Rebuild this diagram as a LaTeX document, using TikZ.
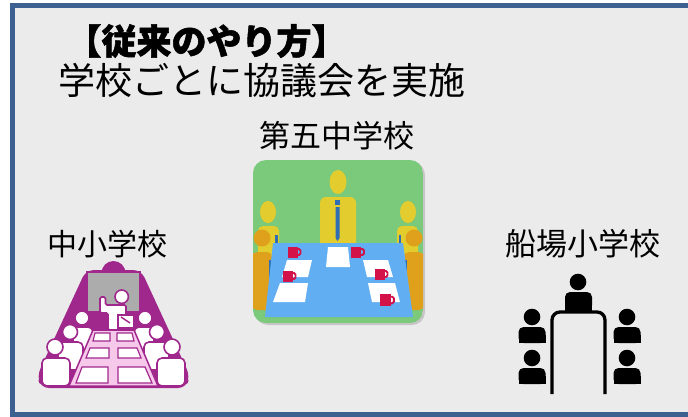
\documentclass[tikz,border=0pt]{standalone}
\usepackage{fontspec}
\newfontfamily\jp{Noto Sans CJK JP}
\newfontfamily\jptitle{Noto Sans CJK JP}[BoldFeatures={FakeBold=1.6}]
\definecolor{frameblue}{HTML}{3C6190}
\definecolor{bggray}{HTML}{EBEBEB}
\definecolor{tgreen}{HTML}{7BC97A}
\definecolor{tblue}{HTML}{62AEF3}
\definecolor{pyellow}{HTML}{E2CC2E}
\definecolor{porange}{HTML}{DFA01C}
\definecolor{tieblue}{HTML}{2F6EB5}
\definecolor{mugred}{HTML}{D3124A}
\definecolor{schpurple}{HTML}{A0288D}
\definecolor{deskpink}{HTML}{F6C8EA}
\definecolor{boardgray}{HTML}{ACACAC}
\tikzset{
  jptext/.style={inner sep=0pt, font=\jp\fontsize{#1}{#1}\selectfont},
  titletext/.style={inner sep=0pt, font=\jptitle\bfseries\fontsize{35}{35}\selectfont},
  paper/.style={fill=white},
  stu/.style={fill=white, draw=schpurple, line width=1.6pt},
  cell/.style={fill=white, draw=schpurple, line width=1.2pt},
  mug/.pic={
    \fill[mugred] (-5,-5.5) rectangle (5,5.5);
    \draw[mugred, line width=1.9pt, rounded corners=1.5pt] (4,-3) -- (8,-3) -- (8,3) -- (4,3);
  },
}
\begin{document}
\begin{tikzpicture}[x=1pt,y=-1pt]
\useasboundingbox (0,0) rectangle (688,417);
\clip (0,0) rectangle (688,417);

% page frame
\fill[white] (0,0) rectangle (688,417);
\fill[frameblue] (10,3) rectangle (700,422);
\fill[bggray] (15,8) rectangle (700,412);

% headings
\node[titletext] (title) at (206.5,41) {【従来のやり方】};
\node[jptext=37] (subtitle) at (261.5,80) {学校ごとに協議会を実施};
\node[jptext=31] (lbldaigo) at (336.5,136) {第五中学校};
\node[jptext=30] (lblchusho) at (107,244) {中小学校};
\node[jptext=31] (lblfunaba) at (582.5,244) {船場小学校};

% ---------- meeting-room tile (centre) ----------
\fill[gray!45, rounded corners=13pt] (255,162) rectangle (425,325);
\begin{scope}
  \path[clip, rounded corners=13pt] (253,160) rectangle (423,323);
  \fill[tgreen] (253,160) rectangle (423,323);
  % chair person
  \fill[pyellow] (338,182) ellipse[x radius=8.5, y radius=12];
  \fill[pyellow, rounded corners=6pt] (320,250) -- (320,197) -- (356,197) -- (356,250) -- cycle;
  \fill[tieblue] (335,200) rectangle (340,205);
  \fill[tieblue] (335.5,207) -- (339.5,207) -- (339.5,238) -- (337.5,241) -- (335.5,238) -- cycle;
  % people along both sides
  \foreach \s in {1,-1}{
    \begin{scope}[shift={(338,0)}, xscale=\s, shift={(-338,0)}]
      \fill[pyellow] (268,212) ellipse[x radius=8, y radius=11];
      \fill[pyellow, rounded corners=5pt] (258,290) -- (258,226) -- (279,226) -- (279,290) -- cycle;
      \fill[tieblue] (275,235) rectangle (277.5,263);
      \fill[porange] (262,238) circle[radius=8.5];
      \fill[porange, rounded corners=5pt] (252,310) -- (252,252) -- (272,252) -- (272,310) -- cycle;
      \fill[tieblue] (269,260) rectangle (271.5,297);
    \end{scope}
  }
  % table
  \fill[tblue] (273,243) -- (403,243) -- (413,317) -- (265,317) -- cycle;
  % papers
  \fill[paper] (328,247) -- (348,247) -- (350,267) -- (326,267) -- cycle;
  \fill[paper] (287,260) -- (312,260) -- (308,277) -- (282,277) -- cycle;
  \fill[paper] (280,283) -- (308,283) -- (305,302) -- (273,302) -- cycle;
  \fill[paper] (363,260) -- (388,260) -- (393,277) -- (367,277) -- cycle;
  \fill[paper] (368,283) -- (395,283) -- (400,302) -- (372,302) -- cycle;
  % mugs
  \pic at (292.5,252) {mug};
  \pic at (356,252) {mug};
  \pic at (287.5,276) {mug};
  \pic at (379.5,274) {mug};
  \pic[scale=1.1] at (385,300) {mug};
\end{scope}

% ---------- classroom icon (left) ----------
\fill[schpurple] (113.5,273) circle[radius=12];
\fill[schpurple, rounded corners=8pt] (86,270) -- (141,270) -- (190,376) -- (186,388) -- (41,388) -- (37,376) -- cycle;
\filldraw[fill=boardgray, draw=schpurple, line width=1.5pt] (87,272) rectangle (140,312);
% teacher
\filldraw[stu, rounded corners=1.5pt] (100,297) -- (105.5,297) -- (105.5,305) -- (126,305) -- (126,330) -- (108,330) -- (108,313) -- (100,313) -- cycle;
\filldraw[stu] (121.7,296.7) circle[radius=6.7];
\filldraw[stu] (118,315) rectangle (134,328);
\draw[schpurple, line width=1.5pt] (121,317) -- (130,323);
% pupils on both sides
\foreach \s in {1,-1}{
  \begin{scope}[shift={(113.5,0)}, xscale=\s, shift={(-113.5,0)}]
    \filldraw[stu, rounded corners=5pt] (73,327) rectangle (93,352);
    \filldraw[stu] (82,318) circle[radius=7];
    \filldraw[stu, rounded corners=5pt] (58,342) rectangle (83,370);
    \filldraw[stu] (70,332) circle[radius=7.5];
    \filldraw[stu, rounded corners=5pt] (42,358) rectangle (70,386);
    \filldraw[stu] (55,347) circle[radius=8];
  \end{scope}
}
% desks
\filldraw[fill=deskpink, draw=schpurple, line width=1.5pt] (93,330) -- (134,330) -- (158,386) -- (69,386) -- cycle;
\filldraw[cell] (95,333) -- (110,333) -- (110,341) -- (93,341) -- cycle;
\filldraw[cell] (117,333) -- (132,333) -- (134,341) -- (117,341) -- cycle;
\filldraw[cell] (90,348) -- (109,348) -- (109,358) -- (86,358) -- cycle;
\filldraw[cell] (118,348) -- (137,348) -- (141,358) -- (118,358) -- cycle;
\filldraw[cell] (82,367) -- (108,367) -- (108,383) -- (76,383) -- cycle;
\filldraw[cell] (118,367) -- (145,367) -- (152,383) -- (118,383) -- cycle;

% ---------- conference table icon (right) ----------
\fill[black] (578,282) circle[radius=8.3];
\fill[black, rounded corners=5pt] (565,292) rectangle (592,310);
\fill[black] (565,300) rectangle (592,312);
\draw[black, line width=3.3pt, rounded corners=8pt] (552,394) -- (552,312) -- (605,312) -- (605,394);
\foreach \px in {532,627}{
  \foreach \py in {317,358}{
    \fill[black] (\px,\py) circle[radius=8.3];
    \fill[black, rounded corners=5pt] (\px-13.5,\py+10) rectangle (\px+13.5,\py+26);
    \fill[black] (\px-13.5,\py+18) rectangle (\px+13.5,\py+26);
  }
}
\end{tikzpicture}
\end{document}
